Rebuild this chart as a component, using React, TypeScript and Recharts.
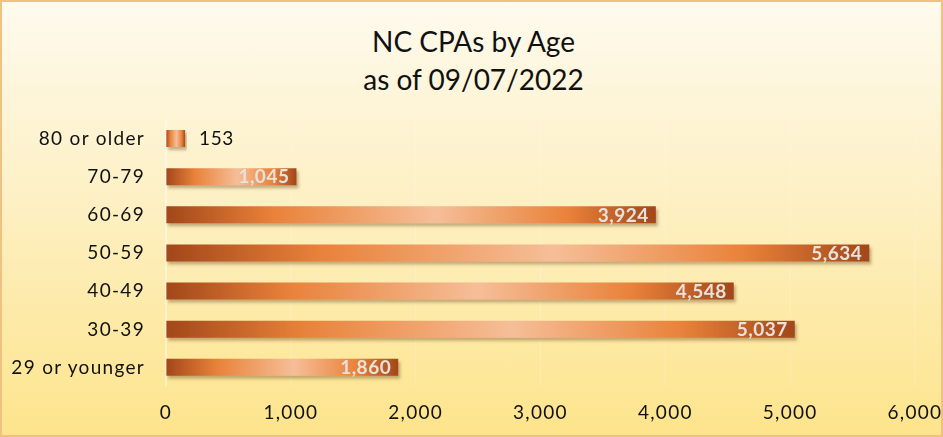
import { Bar, BarChart, CartesianGrid, LabelList, XAxis, YAxis } from "recharts";

const ageGroups = ["80 or older", "70-79", "60-69", "50-59", "40-49", "30-39", "29 or younger"];
const cpaCounts = [153, 1045, 3924, 5634, 4548, 5037, 1860];
const xTicks = [0, 1000, 2000, 3000, 4000, 5000, 6000];

const data = ageGroups.map((name, i) => ({ name, value: cpaCounts[i] }));

const font = "Lato, 'Open Sans', sans-serif";
const fmt = (v: number) => v.toLocaleString("en-US");

const ValueLabel = (props: any) => {
    const { x, y, width, height, value } = props;
    const text = fmt(Number(value));
    const cy = Number(y) + Number(height) / 2;
    if (Number(width) < 50) {
        return (
            <text
                x={Number(x) + Number(width) + 14}
                y={cy}
                dy="0.36em"
                fontSize={19}
                letterSpacing={0.6}
                fill="#111"
                fontFamily={font}
            >
                {text}
            </text>
        );
    }
    return (
        <text
            x={Number(x) + Number(width) - 7}
            y={cy}
            dy="0.36em"
            textAnchor="end"
            fontSize={19}
            fontWeight={700}
            letterSpacing={0.5}
            fill="#e6e2dc"
            fontFamily={font}
        >
            {text}
        </text>
    );
};

const tickStyle = { fontSize: 19, fill: "#111", fontFamily: font, letterSpacing: 1.3 };

const App = () => {

    // render

    return (
        <div
            style={{
                position: "fixed",
                left: 0,
                top: 0,
                width: 943,
                height: 437,
                boxSizing: "border-box",
                border: "2px solid #efc282",
                background: "linear-gradient(to bottom, #fefaee 0%, #fdf0c4 45%, #fde48c 100%)",
                fontFamily: font,
            }}
        >
            <div
                style={{
                    position: "absolute",
                    left: 0,
                    width: 943,
                    top: 20,
                    textAlign: "center",
                    fontSize: 28,
                    lineHeight: "38px",
                    color: "#111",
                }}
            >
                NC CPAs by Age
                <br />
                as of 09/07/2022
            </div>
            <div style={{ position: "absolute", left: -2, top: -2 }}>
                <BarChart
                    width={943}
                    height={437}
                    data={data}
                    layout="vertical"
                    margin={{ top: 119, right: 28, bottom: 0, left: 0 }}
                >
                    <defs>
                        <linearGradient id="barGrad" x1="0" y1="0" x2="1" y2="0">
                            <stop offset="0%" stopColor="#a2471a" />
                            <stop offset="22%" stopColor="#e9823a" />
                            <stop offset="55%" stopColor="#f6be98" />
                            <stop offset="82%" stopColor="#e9823a" />
                            <stop offset="100%" stopColor="#a2471a" />
                        </linearGradient>
                        <filter id="barShadow" x="-5%" y="-30%" width="110%" height="180%">
                            <feDropShadow dx="2" dy="3" stdDeviation="1.5" floodColor="#7a5a2a" floodOpacity="0.45" />
                        </filter>
                    </defs>
                    <CartesianGrid horizontal={false} stroke="rgba(255,255,255,0.22)" />
                    <XAxis
                        type="number"
                        domain={[0, 6000]}
                        ticks={xTicks}
                        tickFormatter={fmt}
                        axisLine={false}
                        tickLine={false}
                        tickSize={0}
                        tickMargin={20}
                        height={51}
                        tick={tickStyle}
                    />
                    <YAxis
                        type="category"
                        dataKey="name"
                        width={166}
                        axisLine={{ stroke: "rgba(255,255,255,0.7)" }}
                        tickLine={false}
                        tickSize={0}
                        tickMargin={21}
                        tick={tickStyle}
                    />
                    <Bar
                        dataKey="value"
                        fill="url(#barGrad)"
                        barSize={17}
                        filter="url(#barShadow)"
                        isAnimationActive={false}
                    >
                        <LabelList dataKey="value" content={ValueLabel} />
                    </Bar>
                </BarChart>
            </div>
        </div>
    )
}

export default App
